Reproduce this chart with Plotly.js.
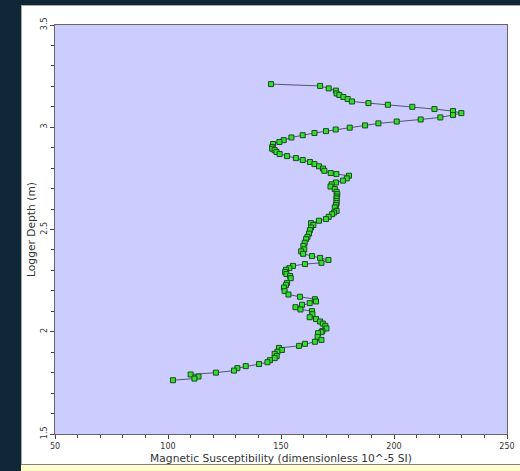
<!DOCTYPE html>
<html>
<head>
<meta charset="utf-8">
<script src="https://cdn.plot.ly/plotly-3.0.1.min.js"></script>
<style>
  html, body { margin: 0; padding: 0; background: #0f2637; width: 520px; height: 471px; overflow: hidden; }
  #panel { position: absolute; left: 21px; top: 5px; width: 499px; height: 459px; background: #ffffff;
           border-top: 1px solid #a8a8a8; border-left: 1px solid #a8a8a8; box-sizing: border-box; }
  #strip { position: absolute; left: 21px; top: 464px; width: 499px; height: 7px; background: #ffffcc;
           border-top: 1px solid #808080; box-sizing: border-box; }
  #chart { position: absolute; left: 0; top: 0; }
</style>
</head>
<body>
<div id="panel"><div id="chart"></div></div>
<div id="strip"></div>
<script>
// Magnetic susceptibility (10^-5 SI), ordered by depth
const susceptibility = [
  145.6, 167.3, 171.1, 174.3, 174.6, 175.8, 177.6, 179.5, 181.4, 188.7,
  197.3, 208.1, 217.9, 226.1, 229.8, 226.1, 220.5, 211.8, 201.2, 193.1,
  187.2, 180.4, 174.2, 169.9, 164.8, 159.6, 154.6, 151.2, 149.3, 146.5,
  146.1, 146.1, 147.2, 148.0, 149.4, 152.7, 156.6, 159.6, 162.8, 164.8,
  166.8, 168.6, 169.2, 172.0, 174.5, 180.1, 179.1, 177.4, 174.3, 172.4,
  171.9, 173.8, 174.6, 174.9, 174.6, 174.6, 174.6, 174.6, 174.3, 173.8,
  174.6, 173.5, 172.6, 171.1, 169.9, 166.8, 163.3, 164.3, 163.3, 162.8,
  162.4, 161.7, 161.1, 160.5, 159.9, 160.3, 158.9, 159.8, 163.7, 167.3,
  171.0, 167.9, 160.6, 155.3, 153.7, 152.2, 151.8, 152.4, 154.0, 154.3,
  152.7, 152.2, 151.3, 151.6, 153.3, 158.4, 165.0, 165.5, 162.7, 159.3,
  156.4, 158.6, 163.7, 163.9, 162.7, 165.5, 167.3, 168.5, 169.6, 170.1,
  168.3, 167.9, 166.4, 166.2, 167.9, 165.0, 160.6, 158.0, 149.1, 150.4,
  148.4, 147.2, 148.1, 147.2, 145.1, 144.0, 140.3, 134.4, 130.7, 129.2,
  121.2, 110.0, 113.5, 111.7, 102.2
];
// Logger depth (m)
const depth = [
  3.211, 3.202, 3.190, 3.179, 3.165, 3.158, 3.148, 3.138, 3.126, 3.118,
  3.110, 3.100, 3.089, 3.079, 3.069, 3.060, 3.048, 3.038, 3.028, 3.019,
  3.009, 2.998, 2.989, 2.981, 2.972, 2.961, 2.950, 2.937, 2.928, 2.918,
  2.903, 2.895, 2.888, 2.879, 2.869, 2.859, 2.849, 2.840, 2.830, 2.820,
  2.809, 2.798, 2.787, 2.776, 2.771, 2.763, 2.750, 2.739, 2.730, 2.721,
  2.710, 2.698, 2.684, 2.673, 2.661, 2.652, 2.640, 2.629, 2.619, 2.608,
  2.591, 2.583, 2.575, 2.562, 2.551, 2.543, 2.531, 2.522, 2.510, 2.497,
  2.480, 2.464, 2.453, 2.435, 2.420, 2.403, 2.393, 2.381, 2.370, 2.361,
  2.351, 2.337, 2.331, 2.322, 2.311, 2.303, 2.292, 2.282, 2.273, 2.262,
  2.239, 2.229, 2.216, 2.199, 2.182, 2.171, 2.159, 2.148, 2.140, 2.132,
  2.120, 2.109, 2.101, 2.086, 2.071, 2.062, 2.050, 2.040, 2.029, 2.016,
  2.004, 1.998, 1.993, 1.975, 1.960, 1.951, 1.941, 1.931, 1.921, 1.911,
  1.902, 1.892, 1.881, 1.871, 1.861, 1.851, 1.842, 1.832, 1.822, 1.810,
  1.800, 1.791, 1.781, 1.771, 1.763
];
const xTitle = "Magnetic Susceptibility (dimensionless 10^-5 SI)";
const yTitle = "Logger Depth (m)";
const xTicks = [50, 100, 150, 200, 250];
const yTicks = [1.5, 2, 2.5, 3, 3.5];

const font = "DejaVu Sans, Verdana, sans-serif";

Plotly.newPlot("chart", [{
  type: "scatter",
  mode: "lines+markers",
  x: susceptibility,
  y: depth,
  line: { color: "#55556e", width: 1 },
  marker: { symbol: "square", size: 5, color: "#2fe02f", line: { color: "#1c4a1c", width: 1 } },
  hoverinfo: "x+y"
}], {
  width: 499,
  height: 459,
  margin: { l: 33, r: 14, t: 19, b: 31 },
  paper_bgcolor: "rgba(0,0,0,0)",
  plot_bgcolor: "#ccccff",
  showlegend: false,
  font: { family: font, color: "#333333" },
  xaxis: {
    range: [50, 250],
    tickvals: xTicks,
    ticktext: xTicks.map(String),
    ticks: "outside", ticklen: 4, tickcolor: "#444444", tickwidth: 1,
    minor: { dtick: 10, ticks: "outside", ticklen: 3, tickcolor: "#444444", showgrid: false },
    showgrid: false, zeroline: false,
    showline: true, mirror: true, linecolor: "#666666", linewidth: 1,
    tickfont: { size: 8, family: font, color: "#333333" },
    title: { text: xTitle, font: { size: 10.7, family: font, color: "#333333" }, standoff: 4 }
  },
  yaxis: {
    range: [1.5, 3.5],
    tickvals: yTicks,
    ticktext: yTicks.map(String),
    tickangle: -90,
    ticks: "outside", ticklen: 4, tickcolor: "#444444", tickwidth: 1,
    minor: { dtick: 0.1, ticks: "outside", ticklen: 3, tickcolor: "#444444", showgrid: false },
    showgrid: false, zeroline: false,
    showline: true, mirror: true, linecolor: "#666666", linewidth: 1,
    tickfont: { size: 8, family: font, color: "#333333" },
    title: { text: yTitle, font: { size: 10.7, family: font, color: "#333333" }, standoff: 2 }
  }
}, { displayModeBar: false, staticPlot: true });
</script>
</body>
</html>
